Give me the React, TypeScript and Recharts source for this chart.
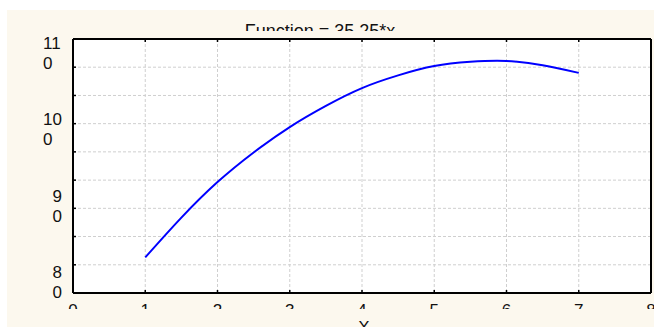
import React from 'react';
import { LineChart, Line, XAxis, YAxis, CartesianGrid } from 'recharts';

// values
const xValues = [1, 1.5, 2, 2.5, 3, 3.5, 4, 4.5, 5, 5.5, 6, 6.5, 7];
const yValues = [84.2, 88.9, 93.1, 96.6, 99.6, 102.1, 104.2, 105.7, 106.8, 107.3, 107.4, 106.9, 106.0];

const xTicks = [0, 1, 2, 3, 4, 5, 6, 7, 8];
const yGridTicks = [80, 83.33, 86.67, 90, 93.33, 96.67, 100, 103.33, 106.67, 110];
const yLabelTicks = [80, 90, 100, 110];

const TITLE = 'Function = 35.25*x';
const X_LABEL = 'X';

const data = xValues.map((x, i) => ({ x, y: yValues[i] }));

const W = 647;
const H = 317;
const PLOT = { left: 66, right: 644, top: 29, bottom: 283 };
const AX = 1; // thin axis boxes, the plot box is set by the margins
const FONT = '"Liberation Sans", Arial, sans-serif';
const CREAM = '#fcf8ee';
const TEXT = '#111';
const TICK = 3;

const LeftTick = ({ y, payload }: any) => {
  const v = payload.value;
  const idx = yLabelTicks.findIndex(t => Math.abs(t - v) < 0.01);
  const mark = <line x1={PLOT.left} x2={PLOT.left + TICK} y1={y} y2={y} stroke="#000" strokeWidth={1.5} />;
  if (idx < 0) return <g>{mark}</g>;
  // label wraps into two lines, like the original narrow axis box
  const s = String(yLabelTicks[idx]);
  const lines = [s.slice(0, s.length - 1), s.slice(s.length - 1)];
  const maxLen = Math.max(...lines.map(l => l.length));
  const startX = 55 - maxLen * 9.45;
  const center = y - 11 + 8.25 * idx;
  return (
    <g>
      {mark}
      {lines.map((l, k) => (
        <text key={k} x={startX} y={center - 10 + k * 20 + 6.1} fontSize={17} fontFamily={FONT} fill={TEXT}>
          {l}
        </text>
      ))}
    </g>
  );
};

const RightTick = ({ y }: any) => (
  <line x1={PLOT.right - TICK} x2={PLOT.right} y1={y} y2={y} stroke="#000" strokeWidth={1.5} />
);

const BottomTick = ({ x, payload }: any) => (
  <g>
    <line x1={x} x2={x} y1={PLOT.bottom - TICK} y2={PLOT.bottom} stroke="#000" strokeWidth={1.5} />
    <svg x={x - 15} y={PLOT.bottom} width={30} height={16} overflow="hidden">
      <text x={15} y={23} textAnchor="middle" fontSize={17} fontFamily={FONT} fill={TEXT}>
        {payload.value}
      </text>
    </svg>
  </g>
);

const TopTick = ({ x }: any) => (
  <line x1={x} x2={x} y1={PLOT.top} y2={PLOT.top + TICK} stroke="#000" strokeWidth={1.5} />
);

export default function App() {
  return (
    <div style={{ position: 'fixed', left: 7, top: 10, width: W, height: H, background: CREAM, overflow: 'hidden' }}>
      <svg width={W} height={H} style={{ position: 'absolute', left: 0, top: 0 }}>
        <svg x={0} y={0} width={W} height={21} overflow="hidden">
          <text x={313} y={27} textAnchor="middle" fontSize={18} fontFamily={FONT} fill={TEXT}>
            {TITLE}
          </text>
        </svg>
        <text x={357} y={323} textAnchor="middle" fontSize={17} fontFamily={FONT} fill={TEXT}>
          {X_LABEL}
        </text>
      </svg>
      <div style={{ position: 'absolute', left: 0, top: 0 }}>
        <LineChart
          width={W}
          height={H}
          data={data}
          margin={{
            top: PLOT.top - AX,
            right: W - PLOT.right - AX,
            left: PLOT.left - AX,
            bottom: H - PLOT.bottom - AX,
          }}
        >
          <CartesianGrid fill="#fff" stroke="#cfcfcf" strokeDasharray="3 2" />
          <XAxis
            dataKey="x"
            type="number"
            domain={[0, 8]}
            ticks={xTicks}
            height={AX}
            tickSize={0}
            tickMargin={0}
            tickLine={false}
            axisLine={{ stroke: '#000', strokeWidth: 2 }}
            tick={<BottomTick />}
            interval={0}
          />
          <XAxis
            xAxisId="top"
            orientation="top"
            dataKey="x"
            type="number"
            domain={[0, 8]}
            ticks={xTicks}
            height={AX}
            tickSize={0}
            tickMargin={0}
            tickLine={false}
            axisLine={{ stroke: '#000', strokeWidth: 2 }}
            tick={<TopTick />}
            interval={0}
          />
          <YAxis
            type="number"
            domain={[80, 110]}
            ticks={yGridTicks}
            width={AX}
            tickSize={0}
            tickMargin={0}
            tickLine={false}
            axisLine={{ stroke: '#000', strokeWidth: 2 }}
            tick={<LeftTick />}
            interval={0}
            allowDataOverflow
          />
          <YAxis
            yAxisId="right"
            orientation="right"
            type="number"
            domain={[80, 110]}
            ticks={yGridTicks}
            width={AX}
            tickSize={0}
            tickMargin={0}
            tickLine={false}
            axisLine={{ stroke: '#000', strokeWidth: 2 }}
            tick={<RightTick />}
            interval={0}
          />
          <Line
            type="natural"
            dataKey="y"
            stroke="#0000ff"
            strokeWidth={2}
            dot={false}
            isAnimationActive={false}
          />
        </LineChart>
      </div>
    </div>
  );
}
